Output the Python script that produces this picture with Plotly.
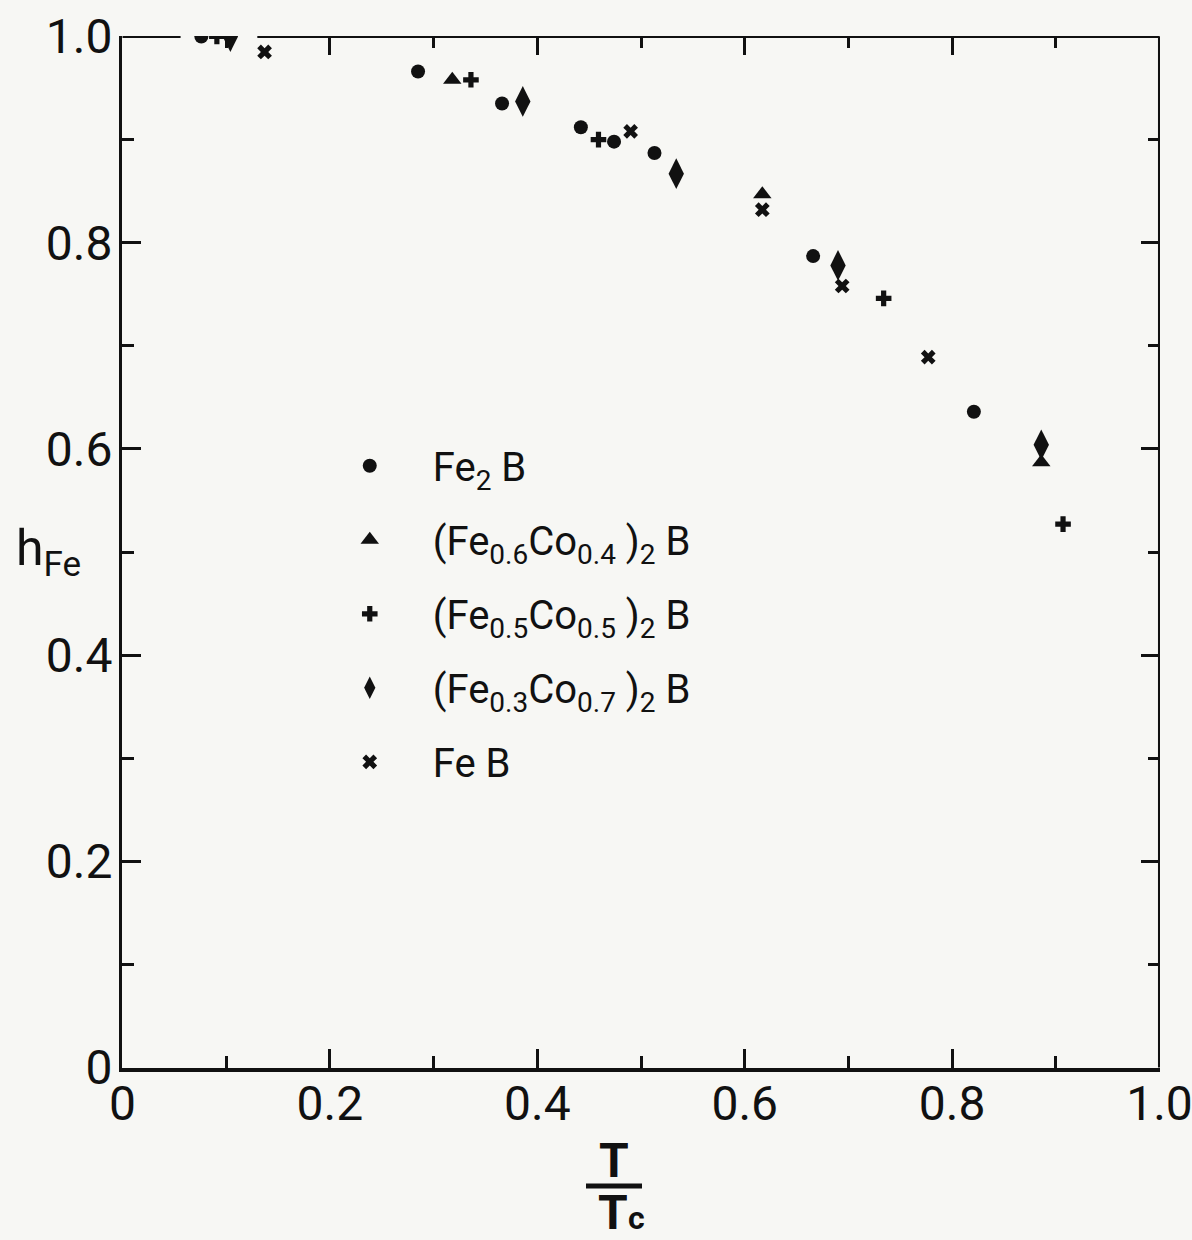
import plotly.graph_objects as go

# Reduced temperature T/Tc and normalised hyperfine field h_Fe for each compound
fe2b_t = [0.076, 0.285, 0.366, 0.442, 0.474, 0.513, 0.666, 0.821]
fe2b_h = [1.000, 0.966, 0.935, 0.912, 0.898, 0.887, 0.787, 0.636]

co04_t = [0.318, 0.617, 0.886]
co04_h = [0.958, 0.847, 0.587]

co05_t = [0.091, 0.336, 0.459, 0.734, 0.907]
co05_h = [1.000, 0.958, 0.900, 0.746, 0.527]

co07_t = [0.104, 0.386, 0.534, 0.690, 0.886]
co07_h = [1.000, 0.937, 0.867, 0.778, 0.604]

feb_t = [0.137, 0.490, 0.617, 0.694, 0.777]
feb_h = [0.985, 0.908, 0.832, 0.758, 0.689]

tick_vals = [0, 0.2, 0.4, 0.6, 0.8, 1.0]
tick_text = ["0", "0.2", "0.4", "0.6", "0.8", "1.0"]

FONT = "Roboto, Liberation Sans, sans-serif"
INK = "#111111"

series = [
    ("Fe<sub>2</sub> B", fe2b_t, fe2b_h, "circle", 14),
    ("(Fe<sub>0.6</sub>Co<sub>0.4</sub> )<sub>2</sub> B", co04_t, co04_h, "triangle-up", 16),
    ("(Fe<sub>0.5</sub>Co<sub>0.5</sub> )<sub>2</sub> B", co05_t, co05_h, "cross", 13),
    ("(Fe<sub>0.3</sub>Co<sub>0.7</sub> )<sub>2</sub> B", co07_t, co07_h, "diamond-tall", 22),
    ("Fe B", feb_t, feb_h, "x", 13),
]

fig = go.Figure()
for i, (name, t, h, sym, size) in enumerate(series):
    fig.add_trace(go.Scatter(
        x=t, y=h, mode="markers", name=name,
        legendgroup=f"g{i}",
        marker=dict(symbol=sym, size=size, color=INK, line=dict(width=0)),
    ))

# ghost trace to drive the top and right tick marks
fig.add_trace(go.Scatter(x=[0, 1], y=[0, 1], xaxis="x2", yaxis="y2",
                         mode="markers", marker=dict(opacity=0),
                         showlegend=False, hoverinfo="skip"))

RNG = [-0.0005, 1.0005]
axis_common = dict(
    range=RNG, automargin=False,
    ticks="inside", ticklen=19, tickwidth=2.5, tickcolor=INK,
    showgrid=False, zeroline=False,
    minor=dict(dtick=0.1, tick0=0, ticks="inside", ticklen=12, tickwidth=2.5, tickcolor=INK),
)

fig.update_layout(
    width=1192, height=1240,
    margin=dict(l=122, r=32, t=36, b=172),
    paper_bgcolor="#f7f7f4", plot_bgcolor="#f7f7f4",
    font=dict(family=FONT, color=INK),
    xaxis=dict(**axis_common, tickvals=tick_vals, ticktext=tick_text,
               tickfont=dict(size=48, family=FONT, color=INK),
               showline=True, linewidth=3.5, linecolor=INK,
               ticklabelstandoff=-9, ticklabeloverflow="allow"),
    yaxis=dict(**axis_common, tickvals=tick_vals, ticktext=tick_text,
               tickfont=dict(size=48, family=FONT, color=INK),
               showline=True, linewidth=3, linecolor=INK,
               ticklabelstandoff=-3, ticklabeloverflow="allow"),
    xaxis2=dict(**axis_common, overlaying="x", side="top", anchor="y",
                tickvals=tick_vals, showticklabels=False, showline=False),
    yaxis2=dict(**axis_common, overlaying="y", side="right", anchor="x",
                tickvals=tick_vals, showticklabels=False, showline=False),
    legend=dict(
        x=0.178, y=0.615, xanchor="left", yanchor="top",
        bgcolor="rgba(0,0,0,0)", borderwidth=0,
        font=dict(size=40, family=FONT, color=INK),
        tracegroupgap=19, itemwidth=116,
    ),
    showlegend=True,
)

# right edge and the top edge, which is broken around the first data cluster
frame = dict(type="line", xref="x", yref="y", line=dict(color=INK, width=3))
fig.add_shape(**frame, x0=1.0, x1=1.0, y0=0, y1=1.0)
fig.add_shape(**frame, x0=0, x1=0.056, y0=1.0, y1=1.0)
fig.add_shape(**frame, x0=0.130, x1=1.0, y0=1.0, y1=1.0)


def px_to_paper(px, py):
    """Pixel position on the page -> paper coordinates of the plot area."""
    return (px - 122) / 1038, (1068 - py) / 1032


def title_text(text, px, py, size, box_h):
    x, y = px_to_paper(px, py)
    fig.add_annotation(text=text, xref="paper", yref="paper", x=x, y=y,
                       showarrow=False, xanchor="center", yanchor="middle",
                       height=box_h, borderpad=0,
                       font=dict(size=size, family=FONT, color=INK))


# y-axis title
title_text("h<sub>Fe</sub>", 48, 552, 50, None)

# x-axis title: the fraction T / Tc
title_text("<b>T</b>", 614, 1160, 48, 44)
lx0, ly = px_to_paper(586, 1186)
lx1, _ = px_to_paper(642, 1186)
fig.add_shape(type="line", xref="paper", yref="paper",
              x0=lx0, x1=lx1, y0=ly, y1=ly, line=dict(color=INK, width=5))
title_text("<b>T</b>", 613, 1212, 48, 44)
title_text("<b>c</b>", 636, 1218, 32, None)

fig.write_html("out.html")
